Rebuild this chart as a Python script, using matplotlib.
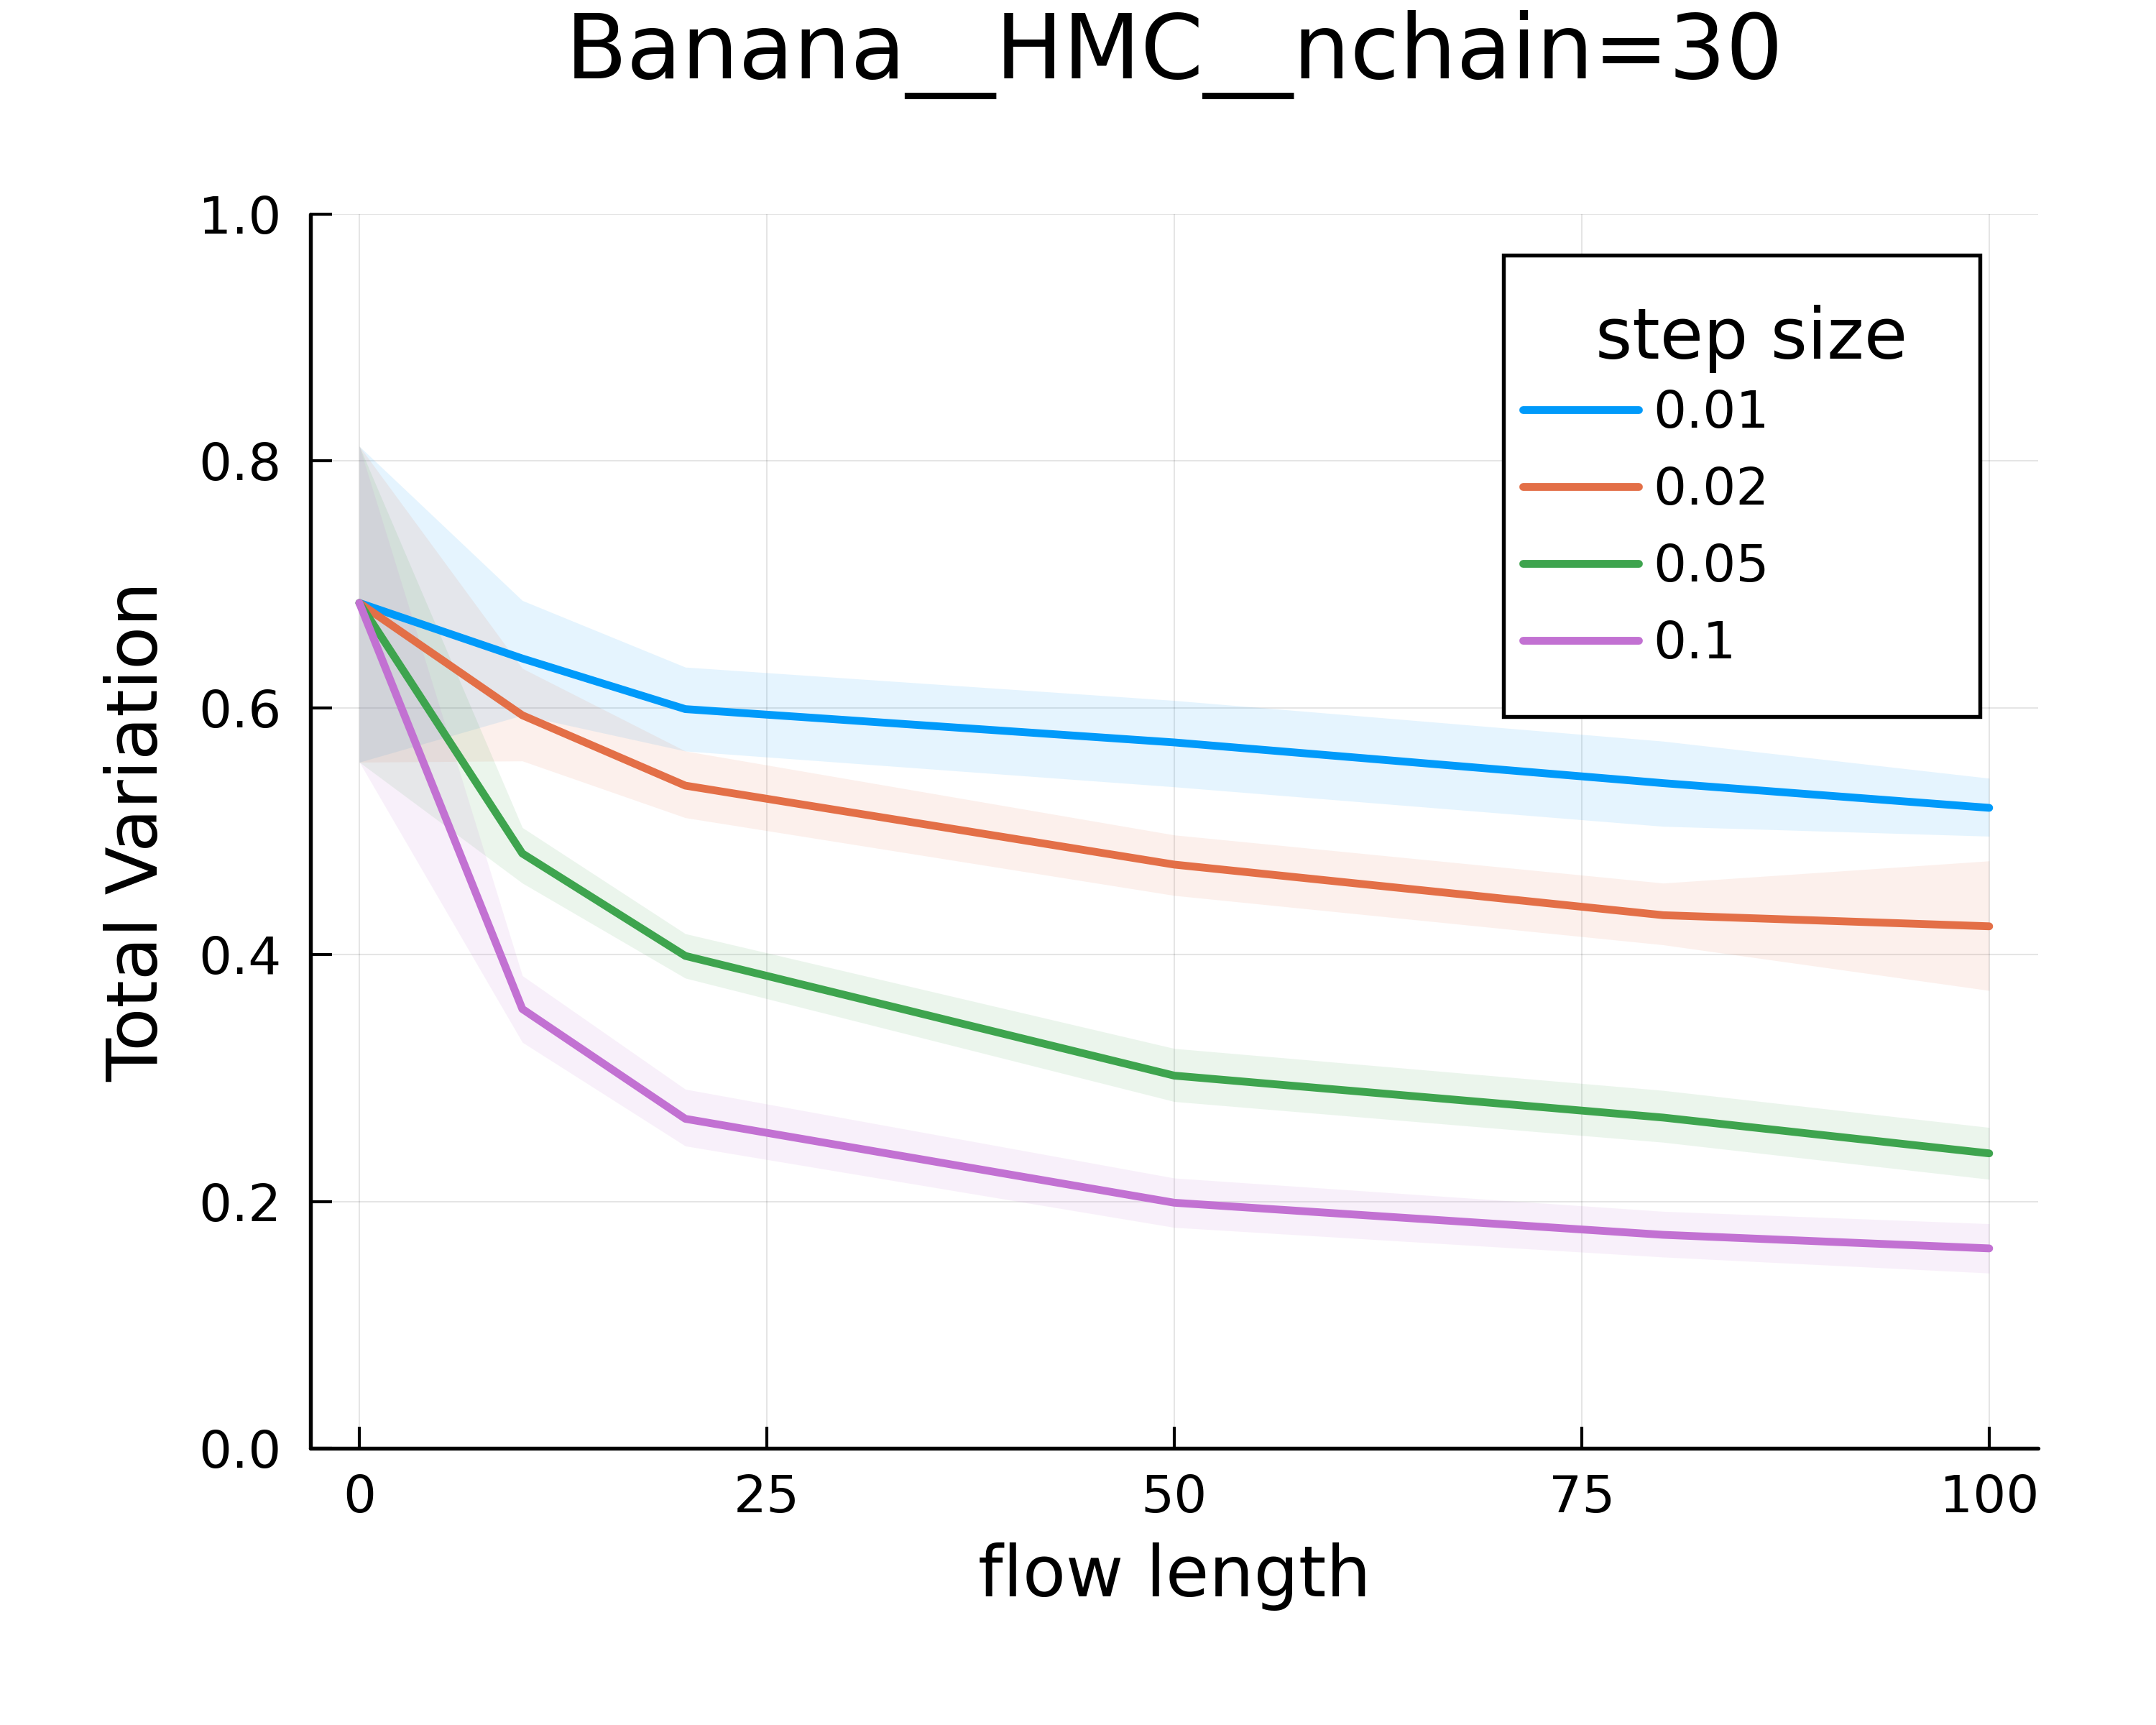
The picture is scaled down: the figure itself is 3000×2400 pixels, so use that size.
import matplotlib
matplotlib.use("Agg")
import matplotlib.pyplot as plt
from matplotlib.patches import Rectangle

# flow lengths
flow_len = [0, 10, 20, 50, 80, 100]

step_sizes = ["0.01", "0.02", "0.05", "0.1"]
colors = ["#009AFA", "#E36F47", "#3EA44E", "#C271D2"]

# mean total variation and ribbon bounds per step size
tv_001 = [0.685, 0.640, 0.599, 0.572, 0.539, 0.519]
lo_001 = [0.556, 0.594, 0.565, 0.536, 0.504, 0.496]
hi_001 = [0.812, 0.687, 0.633, 0.606, 0.573, 0.543]

tv_002 = [0.685, 0.594, 0.537, 0.473, 0.432, 0.423]
lo_002 = [0.556, 0.557, 0.511, 0.448, 0.408, 0.371]
hi_002 = [0.812, 0.632, 0.565, 0.497, 0.458, 0.476]

tv_005 = [0.685, 0.482, 0.399, 0.302, 0.268, 0.239]
lo_005 = [0.556, 0.458, 0.381, 0.281, 0.248, 0.218]
hi_005 = [0.812, 0.503, 0.417, 0.324, 0.290, 0.260]

tv_01 = [0.685, 0.356, 0.267, 0.199, 0.173, 0.162]
lo_01 = [0.556, 0.329, 0.245, 0.179, 0.155, 0.142]
hi_01 = [0.812, 0.383, 0.291, 0.219, 0.192, 0.182]

means = [tv_001, tv_002, tv_005, tv_01]
lows = [lo_001, lo_002, lo_005, lo_01]
highs = [hi_001, hi_002, hi_005, hi_01]

x_ticks = [0, 25, 50, 75, 100]
y_ticks = [0.0, 0.2, 0.4, 0.6, 0.8, 1.0]

TICK_FS = 17.4
GUIDE_FS = 23.6

fig = plt.figure(figsize=(10, 8), dpi=300)
ax = fig.add_axes([0.144, 0.1604, 0.8013, 0.7154])

handles = []
for lab, c, m, lo, hi in zip(step_sizes, colors, means, lows, highs):
    ax.fill_between(flow_len, lo, hi, color=c, alpha=0.1, linewidth=0)
    h, = ax.plot(flow_len, m, color=c, lw=2.6, solid_capstyle="round",
                 solid_joinstyle="round", label=lab)
    handles.append(h)

ax.set_xlim(-3, 103)
ax.set_ylim(0, 1)
ax.set_xticks(x_ticks)
ax.set_yticks(y_ticks)
ax.set_yticklabels(["%.1f" % v for v in y_ticks])
ax.grid(True, color="black", alpha=0.1, lw=0.5)
ax.set_axisbelow(True)

for s in ["top", "right"]:
    ax.spines[s].set_visible(False)
for s in ["left", "bottom"]:
    ax.spines[s].set_linewidth(1.3)
    ax.spines[s].set_capstyle("round")

ax.tick_params(direction="in", length=7.2, width=1.0, labelsize=TICK_FS)
ax.tick_params(axis="x", pad=8.4)
ax.tick_params(axis="y", pad=9.6)

ax.set_xlabel("flow length", fontsize=GUIDE_FS, labelpad=6.5)
ax.set_ylabel("Total Variation", fontsize=GUIDE_FS, labelpad=9)
ax.set_title("Banana__HMC__nchain=30", fontsize=30, y=1.110, pad=0)

# legend box drawn by hand to get the roomy frame
box = Rectangle((0.6905, 0.5929), 0.2758, 0.3739, transform=ax.transAxes,
                facecolor="white", edgecolor="black", lw=1.3, zorder=5)
ax.add_patch(box)
ax.text(0.834, 0.883, "step size", transform=ax.transAxes, fontsize=GUIDE_FS,
        ha="center", va="baseline", zorder=6)
leg = ax.legend(handles=handles, loc="upper left", bbox_to_anchor=(0.7017, 0.8585),
                frameon=False, fontsize=TICK_FS, borderpad=0, borderaxespad=0,
                handlelength=2.22, handletextpad=0.28, labelspacing=0.525)
leg.set_zorder(7)

fig.savefig("out.png", dpi=300, facecolor="white")
